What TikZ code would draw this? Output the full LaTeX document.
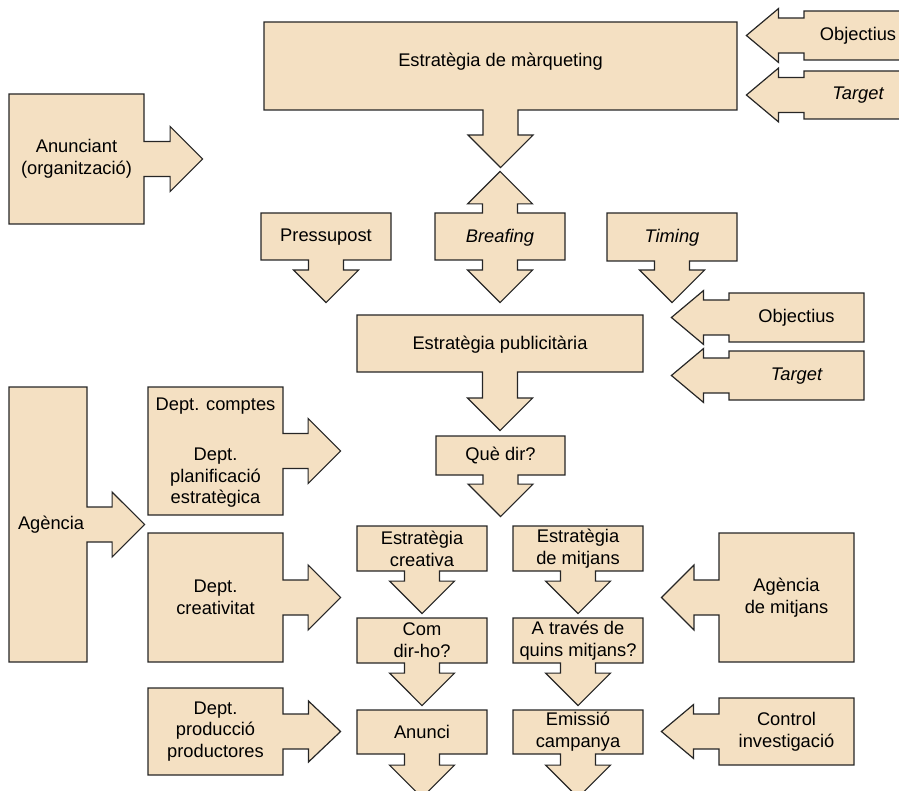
\documentclass[tikz,border=0pt]{standalone}
\usepackage{fontspec}
\setmainfont{Liberation Sans}
\usetikzlibrary{shapes.arrows}

\definecolor{boxfill}{HTML}{F4E0C2}
\tikzset{
  abox/.style={arrow box, draw=black!85, fill=boxfill, line width=1.2pt,
    inner sep=0pt, align=center, font=\fontsize{18.3}{21.7}\selectfont,
    arrow box shaft width=35pt, arrow box head extend=15pt,
    arrow box tip angle=90},
  narrowhead/.style={arrow box head extend=9.5pt, arrow box tip angle=80},
  sz/.style 2 args={minimum width=#1pt, minimum height=#2pt},
}

\begin{document}
\begin{tikzpicture}[x=1pt,y=-1pt]
        \useasboundingbox (0,0) rectangle (899,791);
        % marketing level
        \node[abox, sz={473}{88}, text depth=12pt, arrow box arrows={south:57pt}] (mkt) at (500.5,66) {Estratègia de màrqueting};
        \node[abox, narrowhead, sz={108}{49}, arrow box arrows={west:57pt}] (obj1) at (858,35.5) {Objectius};
        \node[abox, narrowhead, sz={108}{48}, arrow box arrows={west:57pt}] (tgt1) at (858,95) {\itshape Target};
        \node[abox, sz={135}{130}, arrow box arrows={east:58pt}] (anun) at (76.5,159) {Anunciant\\(organització)};
        % inputs to the advertising strategy
        \node[abox, sz={130}{47}, text depth=2pt, arrow box arrows={south:42pt}] (pres) at (326,236.5) {Pressupost};
        \node[abox, sz={130}{47}, text depth=2pt, arrow box arrows={north:41pt, south:42pt}] (brief) at (500,236.5) {\itshape Breafing};
        \node[abox, sz={130}{48}, text depth=2pt, arrow box arrows={south:41pt}] (timing) at (672,237) {\itshape Timing};
        \node[abox, narrowhead, sz={135}{49}, arrow box arrows={west:57pt}] (obj2) at (796.5,317.5) {Objectius};
        \node[abox, narrowhead, sz={135}{49}, text depth=2pt, arrow box arrows={west:57pt}] (tgt2) at (796.5,375.5) {\itshape Target};
        \node[abox, sz={286}{57}, text depth=1pt, arrow box arrows={south:58pt}] (publi) at (500,343.5) {Estratègia publicitària};
        % agency
        \node[abox, sz={78}{275}, align=left, text width=60pt, arrow box arrows={east:57pt}] (ag) at (48,524.5) {Agència};
        \node[abox, sz={135}{128}, text depth=0pt, arrow box arrows={east:57pt}] (comptes) at (215.5,451) {Dept. comptes\\[28pt]Dept.\\planificació\\estratègica};
        \node[abox, sz={135}{129}, arrow box arrows={east:57pt}] (creat) at (215.5,597.5) {Dept.\\creativitat};
        \node[abox, sz={135}{87}, arrow box head extend=13pt, arrow box tip angle=87, arrow box arrows={east:57pt}] (prod) at (215.5,731.5) {Dept.\\producció\\productores};
        % central flow
        \node[abox, sz={129}{39}, arrow box arrows={south:41pt}] (quedir) at (500.5,455.5) {Què dir?};
        \node[abox, sz={130}{45}, arrow box arrows={south:42pt}] (estcre) at (422,548.5) {Estratègia\\creativa};
        \node[abox, sz={130}{45}, arrow box arrows={south:42pt}] (estmit) at (578,548.5) {Estratègia\\de mitjans};
        \node[abox, sz={130}{45}, arrow box arrows={south:42pt}] (com) at (422,640.5) {Com\\dir-ho?};
        \node[abox, sz={130}{45}, arrow box arrows={south:42pt}] (trav) at (578,640.5) {A través de\\quins mitjans?};
        \node[abox, sz={130}{44}, arrow box arrows={south:43pt}] (anunci) at (422,732) {Anunci};
        \node[abox, sz={130}{44}, arrow box arrows={south:43pt}] (emis) at (578,732) {Emissió\\campanya};
        % media side
        \node[abox, sz={135}{129}, arrow box arrows={west:57pt}] (agmit) at (786.5,597.5) {Agència\\de mitjans};
        \node[abox, narrowhead, sz={135}{67}, arrow box arrows={west:57pt}] (ctrl) at (786.5,731.5) {Control\\investigació};
      \end{tikzpicture}
\end{document}
